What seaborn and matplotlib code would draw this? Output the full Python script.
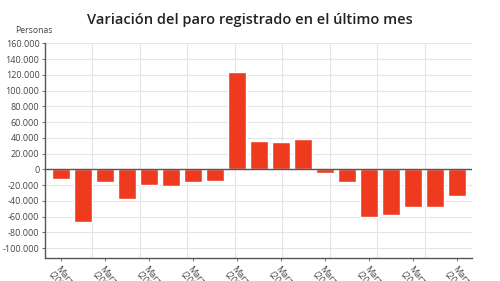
import matplotlib
matplotlib.use("Agg")
import matplotlib.pyplot as plt
import matplotlib.ticker as mticker
import pandas as pd
import seaborn as sns

years = [str(y) for y in range(2001, 2020)]
variacion = [-12500, -66500, -16700, -37600, -20500, -20900, -15900, -14600,
             123543, 35279, 34406, 38769, -4979, -16620, -60214, -58216,
             -48559, -47697, -33780]

df = pd.DataFrame({"mes": ["Marzo\n(" + y + ")" for y in years], "variacion": variacion})

sns.set_style("white")
plt.rcParams["font.family"] = ["Open Sans", "DejaVu Sans"]

fig = plt.figure(figsize=(5, 2.81), dpi=100)
ax = fig.add_axes([0.09, 0.081, 0.854, 0.765])

# vertical grid of the original does not follow the bars
for f in [i / 9 for i in range(1, 10)]:
    ax.plot([f, f], [0, 1], transform=ax.transAxes, color="#e4e4ea", lw=0.8, zorder=0)
for v in range(-100000, 160001, 20000):
    ax.axhline(v, color="#e4e4ea", lw=0.8, zorder=0)

sns.barplot(data=df, x="mes", y="variacion", color="#ee3a1f", saturation=1,
            width=0.82, ax=ax, zorder=2)
ax.axhline(0, color="#555555", lw=1.0, zorder=3)

ax.set_xlim(-0.72, 18.68)
ax.set_ylim(-113000, 160000)
ax.set_yticks(range(-100000, 160001, 20000))
ax.yaxis.set_major_formatter(mticker.FuncFormatter(lambda v, p: f"{int(v):,}".replace(",", ".")))
ax.set_xticks(range(0, 19, 2))
ax.set_xticklabels(df["mes"][::2], rotation=-50, ha="left", va="top",
                   rotation_mode="anchor", fontsize=6.5, color="#444444",
                   linespacing=1.0)
ax.tick_params(axis="y", labelsize=6.5, labelcolor="#444444", length=2, width=0.6,
               color="#555555", pad=2, left=True)
ax.tick_params(axis="x", length=2.5, width=0.6, color="#555555", pad=2, bottom=True)
ax.set_xlabel("")
ax.set_ylabel("")

for s in ["top", "right"]:
    ax.spines[s].set_visible(False)
for s in ["left", "bottom"]:
    ax.spines[s].set_color("#555555")
    ax.spines[s].set_linewidth(1.0)

fig.text(0.03, 0.893, "Personas", fontsize=6.2, color="#444444", va="center")
fig.text(0.5, 0.93, "Variación del paro registrado en el último mes",
         fontsize=10.5, fontweight="semibold", color="#222222", ha="center", va="center")

fig.savefig("out.png", dpi=100)
